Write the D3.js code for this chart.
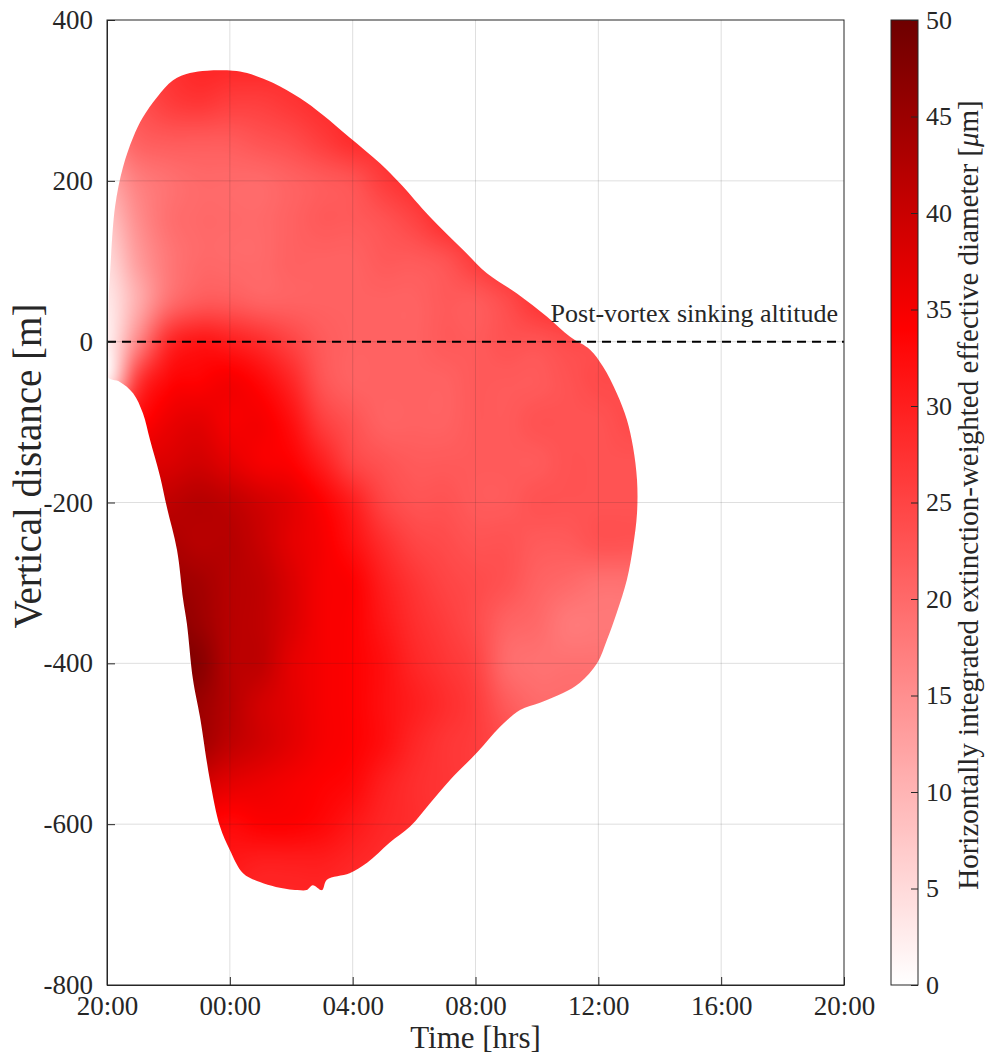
<!DOCTYPE html>
<html><head><meta charset="utf-8">
<script src="https://cdn.jsdelivr.net/npm/d3@7"></script>
<style>
body{margin:0;background:#fff}
svg{display:block}
text{font-family:"Liberation Serif","Times New Roman",serif;fill:#262626}
</style>
</head><body>
<svg id="chart" width="987" height="1057"></svg>
<script>
// ---------- data ----------
const timeTicks = [0, 4, 8, 12, 16, 20, 24];               // hours after 20:00
const timeTickLabels = ["20:00","00:00","04:00","08:00","12:00","16:00","20:00"];
const altTicks = [-800, -600, -400, -200, 0, 200, 400];
const cbTicks = [0, 5, 10, 15, 20, 25, 30, 35, 40, 45, 50];

const gridTimes = [0,1,2,3,4,5,6,7,8,9,10,11,12,13,14,15,16,17];
const gridAlts = [350,300,250,200,150,100,50,0,-50,-100,-150,-200,-250,-300,-350,-400,-450,-500,-550,-600,-650,-700];
// effective diameter [um], rows = gridAlts, cols = gridTimes
const diameter = [
  [22,24,27,29,29,29,28,28,28,28,28,28,28,28,28,28,28,28],
  [19,23,26,27,26,26,27,28,28,28,28,28,28,28,28,28,28,28],
  [17,21,22,22,22,23,24,26,28,28,29,29,29,29,29,29,29,29],
  [12,17,19,20,20,20,21,22,23,26,28,29,29,29,29,29,29,29],
  [8,15,19,20,20,20,21,22,22,23,25,28,29,29,29,29,29,29],
  [5,13,18,20,20,20,21,21,21,22,22,23,26,28,28,28,28,28],
  [3,11,19,22,22,21,21,21,21,21,21,22,22,24,27,28,28,28],
  [2,16,28,31,30,28,25,22,21,21,21,22,22,23,23,24,24,24],
  [3,26,33,34,35,33,29,23,21,21,21,21,22,22,22,23,24,24],
  [30,33,36,37,35,35,32,26,23,21,21,21,22,22,23,23,23,24],
  [34,37,38,39,37,35,34,30,25,23,22,22,22,22,22,23,23,23],
  [40,40,41,42,41,39,37,34,30,25,23,23,22,22,23,23,23,23],
  [43,43,43,42,42,40,37,35,32,28,25,24,23,23,22,22,23,23],
  [45,45,45,44,42,41,38,35,34,30,27,25,24,23,21,20,19,19],
  [47,47,47,45,42,41,38,35,34,31,28,26,24,21,20,18,18,18],
  [48,48,48,47,42,41,37,35,34,32,29,27,25,20,19,19,19,19],
  [46,46,46,45,42,39,37,35,34,32,30,28,26,22,20,20,20,20],
  [44,44,44,44,41,39,37,35,34,32,29,27,26,24,22,22,22,22],
  [40,40,40,39,37,36,35,34,33,30,28,27,26,24,22,22,22,22],
  [34,34,34,34,33,34,34,33,31,29,28,27,26,24,22,22,22,22],
  [32,32,32,32,31,30,30,30,29,28,27,26,25,24,22,22,22,22],
  [31,31,31,31,30,29,29,29,28,27,26,25,24,23,22,22,22,22]
];
// outline of the contrail region (hours after 20:00, metres)
const outlineTime = [0.03,0.03,0.05,0.1,0.26,0.52,0.85,1.17,1.63,2.15,2.7,3.26,4.1,4.56,5.4,6.28,7.03,7.9,8.89,9.54,10.52,11.6,12.37,13.35,14.33,15.08,15.73,16.15,16.6,16.93,17.13,17.26,17.26,17.13,16.93,16.6,16.28,15.96,15.4,14.85,14.1,13.45,12.8,12.05,11.17,10.52,9.87,9.2,8.47,7.9,7.16,7.0,6.7,6.5,6.2,5.5,4.98,4.43,4.0,3.68,3.35,3.03,2.8,2.6,2.48,2.28,1.95,1.73,1.4,1.17,0.85,0.42];
const outlineAlt  = [-44,0,50,85,167,217,254,279,304,325,334,337,337,334,322,303,282,254,222,197,155,114,85,60,31,6,-10,-31,-64,-97,-131,-172,-213,-255,-296,-337,-371,-400,-424,-437,-449,-458,-479,-511,-545,-574,-603,-623,-648,-661,-669,-682,-676,-682,-682,-678,-672,-661,-632,-603,-545,-467,-420,-350,-321,-259,-206,-168,-122,-89,-64,-50];
const sinkingAltitude = 0;

// ---------- layout ----------
const svg = d3.select("#chart");
const L = 107, R = 844, T = 20, B = 985;
const x = d3.scaleLinear().domain([0, 24]).range([L, R]);
const y = d3.scaleLinear().domain([-800, 400]).range([B, T]);
const cmap = d3.scaleLinear().domain([0, 34, 50]).range(["#ffffff", "#ff0000", "#6e0000"]).clamp(true);

// ---------- field raster ----------
const W = R - L, H = B - T;
const canvas = document.createElement("canvas");
canvas.width = W; canvas.height = H;
const ctx = canvas.getContext("2d");
const img = ctx.createImageData(W, H);
const lut = d3.range(0, 501).map(i => d3.rgb(cmap(i / 10)));
const nT = gridTimes.length, nA = gridAlts.length;
const t0 = gridTimes[0], dt = gridTimes[1] - gridTimes[0];
const a0 = gridAlts[0], da = gridAlts[0] - gridAlts[1];
function cr(p0, p1, p2, p3, s) {
  return p1 + 0.5 * s * (p2 - p0 + s * (2*p0 - 5*p1 + 4*p2 - p3 + s * (3*(p1 - p2) + p3 - p0)));
}
const ci = (i, n) => Math.max(0, Math.min(n - 1, i));
function sample(t, a) {
  let fi = Math.max(0, Math.min(nT - 1, (t - t0) / dt));
  let fj = Math.max(0, Math.min(nA - 1, (a0 - a) / da));
  const i1 = Math.min(nT - 2, Math.floor(fi)), j1 = Math.min(nA - 2, Math.floor(fj));
  const u = fi - i1, v = fj - j1;
  const rows = [];
  for (let k = -1; k <= 2; k++) {
    const row = diameter[ci(j1 + k, nA)];
    rows.push(cr(row[ci(i1 - 1, nT)], row[i1], row[i1 + 1], row[ci(i1 + 2, nT)], u));
  }
  return cr(rows[0], rows[1], rows[2], rows[3], v);
}
for (let py = 0; py < H; py++) {
  const a = y.invert(T + py + 0.5);
  for (let px = 0; px < W; px++) {
    const t = x.invert(L + px + 0.5);
    let val = Math.max(0, Math.min(50, sample(t, a)));
    const c = lut[Math.round(val * 10)];
    const o = (py * W + px) * 4;
    img.data[o] = c.r; img.data[o + 1] = c.g; img.data[o + 2] = c.b; img.data[o + 3] = 255;
  }
}
ctx.putImageData(img, 0, 0);

const outline = outlineTime.map((t, i) => [t, outlineAlt[i]]);
const defs = svg.append("defs");
defs.append("clipPath").attr("id", "shape")
  .append("path")
  .attr("d", d3.line().x(d => x(d[0])).y(d => y(d[1])).curve(d3.curveCatmullRomClosed.alpha(0.5))(outline));

svg.append("image")
  .attr("href", canvas.toDataURL())
  .attr("x", L).attr("y", T).attr("width", W).attr("height", H)
  .attr("preserveAspectRatio", "none")
  .attr("clip-path", "url(#shape)");

// ---------- grid ----------
const gridColor = "rgba(38,38,38,0.15)";
svg.append("g").selectAll("line").data(timeTicks.slice(1, -1)).join("line")
  .attr("x1", d => x(d)).attr("x2", d => x(d)).attr("y1", T).attr("y2", B)
  .attr("stroke", gridColor).attr("stroke-width", 1);
svg.append("g").selectAll("line").data(altTicks.slice(1, -1)).join("line")
  .attr("y1", d => y(d)).attr("y2", d => y(d)).attr("x1", L).attr("x2", R)
  .attr("stroke", gridColor).attr("stroke-width", 1);

// ---------- sinking altitude ----------
svg.append("line")
  .attr("x1", x(0)).attr("x2", x(24)).attr("y1", y(sinkingAltitude)).attr("y2", y(sinkingAltitude))
  .attr("stroke", "#000").attr("stroke-width", 2).attr("stroke-dasharray", "9,6");
svg.append("text")
  .attr("x", 838).attr("y", y(sinkingAltitude) - 20)
  .attr("text-anchor", "end").attr("font-size", 26)
  .text("Post-vortex sinking altitude");

// ---------- axes ----------
svg.append("rect").attr("x", L).attr("y", T).attr("width", W).attr("height", H)
  .attr("fill", "none").attr("stroke", "#262626").attr("stroke-width", 1);

const xAxis = svg.append("g").attr("transform", `translate(0,${B})`)
  .call(d3.axisBottom(x).tickValues(timeTicks).tickFormat((d, i) => timeTickLabels[i])
    .tickSizeInner(-8).tickSizeOuter(0).tickPadding(11));
const yAxis = svg.append("g").attr("transform", `translate(${L},0)`)
  .call(d3.axisLeft(y).tickValues(altTicks).tickFormat(d3.format("d"))
    .tickSizeInner(-8).tickSizeOuter(0).tickPadding(14));
[xAxis, yAxis].forEach(g => {
  g.select(".domain").attr("stroke", "#262626");
  g.selectAll(".tick line").attr("stroke", "#262626");
  g.selectAll(".tick text").attr("font-size", 27).attr("fill", "#262626");
  g.attr("font-family", null);
});
yAxis.selectAll(".tick text").text(d => d < 0 ? "-" + Math.abs(d) : d);

svg.append("text").attr("x", (L + R) / 2).attr("y", 1048)
  .attr("text-anchor", "middle").attr("font-size", 31).text("Time [hrs]");
svg.append("text").attr("transform", `translate(41,466) rotate(-90)`)
  .attr("text-anchor", "middle").attr("font-size", 39).text("Vertical distance [m]");

// ---------- colorbar ----------
const cbL = 891, cbW = 27;
const cy = d3.scaleLinear().domain([0, 50]).range([B, T]);
const grad = defs.append("linearGradient").attr("id", "cbgrad")
  .attr("x1", 0).attr("y1", 1).attr("x2", 0).attr("y2", 0);
d3.range(0, 51, 1).forEach(v => grad.append("stop").attr("offset", v / 50).attr("stop-color", cmap(v)));
svg.append("rect").attr("x", cbL).attr("y", T).attr("width", cbW).attr("height", H)
  .attr("fill", "url(#cbgrad)").attr("stroke", "#262626").attr("stroke-width", 1);
const cbAxis = svg.append("g").attr("transform", `translate(${cbL + cbW},0)`)
  .call(d3.axisRight(cy).tickValues(cbTicks).tickSizeInner(-7).tickSizeOuter(0).tickPadding(8));
cbAxis.select(".domain").remove();
cbAxis.selectAll(".tick line").attr("stroke", "#262626");
cbAxis.selectAll(".tick text").attr("font-size", 26).attr("fill", "#262626");
cbAxis.attr("font-family", null);
const cbLabel = svg.append("text").attr("transform", `translate(978,495) rotate(-90)`)
  .attr("text-anchor", "middle").attr("font-size", 29);
cbLabel.append("tspan").text("Horizontally integrated extinction-weighted effective diameter [");
cbLabel.append("tspan").attr("font-style", "italic").text("μ");
cbLabel.append("tspan").text("m]");
</script>
</body></html>
